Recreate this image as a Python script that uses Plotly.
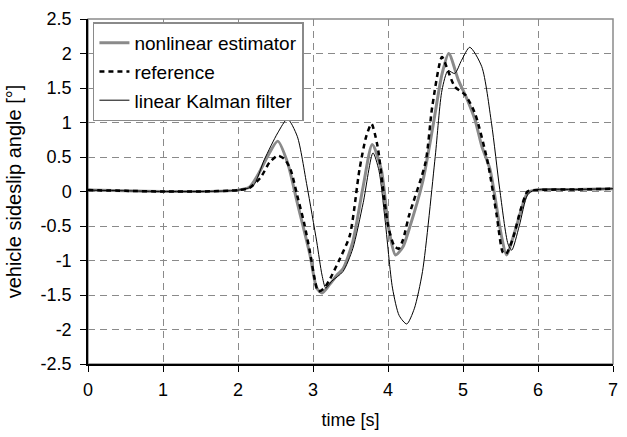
import plotly.graph_objects as go

# nonlinear estimator (gray thick)
t_nl = [0, 0.5, 1, 1.5, 2.0, 2.15, 2.26, 2.4, 2.53, 2.66, 2.79, 2.96, 3.05, 3.12, 3.22, 3.32,
        3.40, 3.53, 3.67, 3.79, 3.91, 4.01, 4.1, 4.2, 4.28, 4.46, 4.6, 4.72, 4.81, 4.94, 5.05,
        5.16, 5.25, 5.36, 5.51, 5.58, 5.7, 5.86, 5.95, 6.5, 7]
y_nl = [0.02, 0.01, 0.0, 0.0, 0.02, 0.06, 0.23, 0.52, 0.73, 0.42, -0.16, -0.92, -1.40, -1.47,
        -1.35, -1.21, -1.12, -0.73, 0.08, 0.68, 0.32, -0.54, -0.92, -0.8, -0.55, 0.13, 0.95,
        1.7, 2.0, 1.61, 1.35, 1.04, 0.66, 0.32, -0.63, -0.92, -0.55, -0.02, 0.02, 0.03, 0.04]

# reference (black dashed)
t_ref = [0, 0.5, 1, 1.5, 2.0, 2.15, 2.3, 2.42, 2.53, 2.62, 2.70, 2.79, 2.88, 2.96, 3.03, 3.07,
         3.15, 3.23, 3.36, 3.49, 3.62, 3.71, 3.78, 3.86, 3.93, 4.0, 4.08, 4.14, 4.2, 4.28, 4.5,
         4.59, 4.72, 4.8, 4.89, 5.03, 5.16, 5.33, 5.45, 5.53, 5.57, 5.66, 5.77, 5.86, 5.95, 6.5, 7]
y_ref = [0.02, 0.01, 0.0, 0.0, 0.02, 0.05, 0.2, 0.42, 0.52, 0.47, 0.32, -0.06, -0.45, -0.88,
         -1.31, -1.45, -1.4, -1.26, -0.97, -0.64, 0.32, 0.80, 0.98, 0.66, 0.08, -0.49, -0.78,
         -0.83, -0.7, -0.35, 0.42, 1.23, 1.95, 1.75, 1.52, 1.40, 1.13, 0.42, -0.35, -0.88, -0.91,
         -0.7, -0.26, 0.0, 0.02, 0.03, 0.04]

# linear Kalman filter (thin black)
t_kf = [0, 0.5, 1, 1.5, 2.0, 2.2, 2.35, 2.53, 2.66, 2.79, 2.92, 3.05, 3.12, 3.17, 3.25, 3.4,
        3.53, 3.67, 3.8, 3.88, 3.96, 4.06, 4.15, 4.25, 4.35, 4.46, 4.63, 4.72, 4.8, 4.89, 4.98,
        5.09, 5.25, 5.38, 5.49, 5.6, 5.65, 5.75, 5.86, 5.95, 6.5, 7]
y_kf = [0.02, 0.01, 0.0, 0.0, 0.02, 0.08, 0.46, 0.85, 1.05, 0.8, 0.08, -0.73, -1.21, -1.4, -1.3,
        -1.16, -0.83, -0.16, 0.56, 0.3, -0.4, -1.40, -1.8, -1.92, -1.7, -1.16, 0.51, 1.47, 1.75,
        1.71, 1.9, 2.09, 1.81, 0.99, 0.03, -0.76, -0.85, -0.5, -0.05, 0.02, 0.03, 0.04]

# tick labels
x_ticks = [0, 1, 2, 3, 4, 5, 6, 7]
y_ticks = [2.5, 2, 1.5, 1, 0.5, 0, -0.5, -1, -1.5, -2, -2.5]
y_ticktext = ['2.5', '2', '1.5', '1', '0.5', '0', '-0.5', '-1', '-1.5', '-2', '-2.5']

fig = go.Figure()

fig.add_trace(go.Scatter(x=t_nl, y=y_nl, mode='lines', name='nonlinear estimator', legendgroup='a',
                         line=dict(color='#8a8a8a', width=3, shape='spline', smoothing=0.7)))
fig.add_trace(go.Scatter(x=t_ref, y=y_ref, mode='lines', name='reference', legendgroup='b',
                         line=dict(color='black', width=2.5, dash='5px,4px', shape='spline', smoothing=0.7)))
fig.add_trace(go.Scatter(x=t_kf, y=y_kf, mode='lines', name='linear Kalman filter', legendgroup='c',
                         line=dict(color='black', width=1, shape='spline', smoothing=0.7)))

# gray frame on top and right of plot area
fig.add_shape(type='rect', xref='paper', yref='paper', x0=0, x1=1, y0=0, y1=1,
              line=dict(color='#8a8a8a', width=1.5), layer='below')

grid = dict(showgrid=True, gridcolor='#8a8a8a', griddash='7px,5px', gridwidth=1, zeroline=False)

fig.update_layout(
    width=627, height=437,
    margin=dict(l=88, r=9, t=14, b=73),
    paper_bgcolor='white', plot_bgcolor='white',
    font=dict(family='Liberation Sans, Arial, sans-serif', size=18, color='black'),
    showlegend=True,
    legend=dict(x=0.0094, y=0.99, xanchor='left', yanchor='top',
                bgcolor='white', bordercolor='#8a8a8a', borderwidth=1.5,
                font=dict(size=19), tracegroupgap=1),
    xaxis=dict(
        range=[0, 7], tickvals=x_ticks, title=dict(text='time [s]', standoff=14, font=dict(size=18)),
        showline=True, linecolor='black', linewidth=1.5,
        ticks='outside', ticklen=6, tickcolor='black', ticklabeloverflow='allow',
        ticklabelstandoff=3, tickfont=dict(size=18), **grid,
    ),
    yaxis=dict(
        range=[-2.5, 2.5], tickvals=y_ticks, ticktext=y_ticktext,
        title=dict(text='vehicle sideslip angle [°]', standoff=14, font=dict(size=20)),
        showline=True, linecolor='black', linewidth=1.5,
        ticks='outside', ticklen=6, tickcolor='black', ticklabelstandoff=5,
        ticklabeloverflow='allow', tickfont=dict(size=18), **grid,
    ),
)

# drop the default 8px page margin so the figure sits at the window origin
fig.write_html("out.html", config={'displayModeBar': False},
               post_script="document.body.style.margin='0';")
